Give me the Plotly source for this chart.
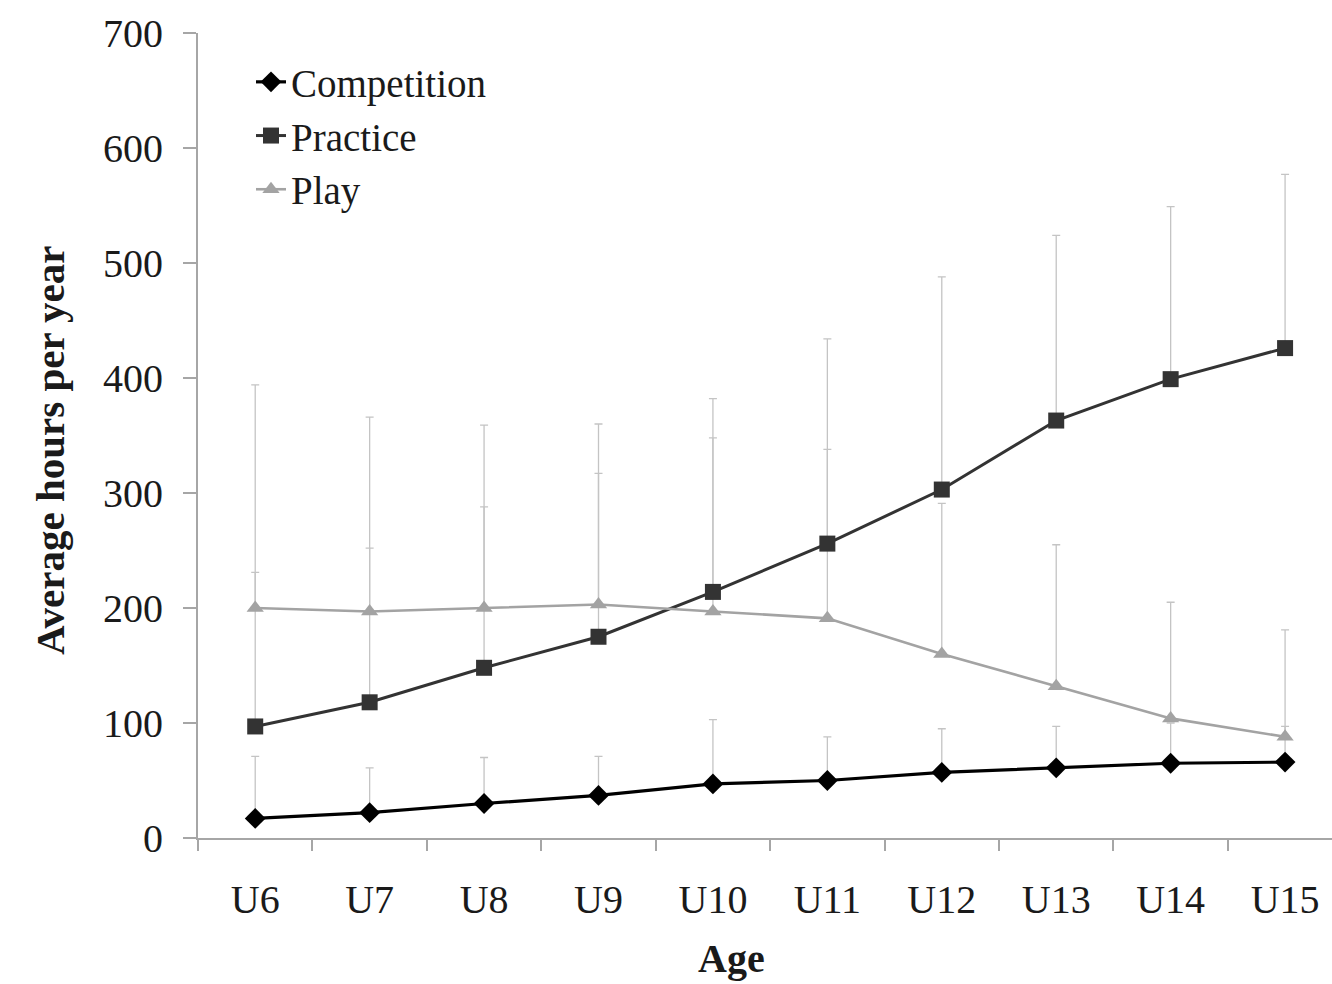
import plotly.graph_objects as go

# Age groups
ages = ["U6", "U7", "U8", "U9", "U10", "U11", "U12", "U13", "U14", "U15"]

# Average hours per year
competition = [17, 22, 30, 37, 47, 50, 57, 61, 65, 66]
practice = [97, 118, 148, 175, 214, 256, 303, 363, 399, 426]
play = [200, 197, 200, 203, 197, 191, 160, 132, 104, 88]

# Standard deviations (drawn as upper error bars only)
competition_sd = [54, 39, 40, 34, 56, 38, 38, 36, 35, 31]
practice_sd = [134, 134, 140, 142, 168, 178, 185, 161, 150, 151]
play_sd = [194, 169, 159, 157, 151, 147, 131, 123, 101, 93]

y_ticks = [0, 100, 200, 300, 400, 500, 600, 700]

FONT = "Liberation Serif"
ERR_COLOR = "#c4c4c4"
AXIS_COLOR = "#a6a6a6"
TEXT_COLOR = "#1a1a1a"

series = [
    ("Competition", competition, competition_sd, "#000000", "diamond", 16, 3.2),
    ("Practice", practice, practice_sd, "#333333", "square", 16, 3.0),
    ("Play", play, play_sd, "#a3a3a3", "triangle-up", 15, 2.6),
]

fig = go.Figure()

# error bars first so the lines and markers sit on top of them
for name, vals, sd, color, sym, size, lw in series:
    fig.add_trace(go.Scatter(
        x=ages, y=vals, mode="markers",
        marker=dict(size=1, opacity=0),
        error_y=dict(type="data", symmetric=False, array=sd,
                     arrayminus=[0] * len(sd), color=ERR_COLOR,
                     thickness=1.3, width=4),
        showlegend=False, hoverinfo="skip",
    ))

for i, (name, vals, sd, color, sym, size, lw) in enumerate(series):
    fig.add_trace(go.Scatter(
        x=ages, y=vals, name=name, mode="lines+markers",
        line=dict(color=color, width=lw),
        marker=dict(symbol=sym, size=size, color=color),
        legendgroup=f"g{i}",
    ))

L, R_EDGE, T, B0 = 198, 1332, 33, 838
W, H = 1332, 984

fig.update_layout(
    width=W, height=H,
    margin=dict(l=L, r=W - R_EDGE, t=T, b=H - B0),
    paper_bgcolor="white", plot_bgcolor="white",
    font=dict(family=FONT, size=40, color=TEXT_COLOR),
    showlegend=True,
    legend=dict(
        x=(251 - L) / (R_EDGE - L), y=1 - (50 - T) / (B0 - T),
        xanchor="left", yanchor="top",
        font=dict(family=FONT, size=39, color=TEXT_COLOR),
        bgcolor="rgba(0,0,0,0)", tracegroupgap=6,
        traceorder="normal",
    ),
    xaxis=dict(
        type="category", categoryorder="array", categoryarray=ages,
        range=[-0.5, 9.41], tickson="boundaries",
        showline=True, linecolor=AXIS_COLOR, linewidth=2,
        ticks="outside", ticklen=11, tickwidth=2, tickcolor=AXIS_COLOR,
        showgrid=False, zeroline=False,
        tickfont=dict(family=FONT, size=40, color=TEXT_COLOR),
        ticklabelstandoff=25,
    ),
    yaxis=dict(
        range=[0, 700], tickvals=y_ticks,
        showline=True, linecolor=AXIS_COLOR, linewidth=2,
        ticks="outside", ticklen=13, tickwidth=2, tickcolor=AXIS_COLOR,
        showgrid=False, zeroline=False,
        tickfont=dict(family=FONT, size=40, color=TEXT_COLOR),
        ticklabelstandoff=12,
    ),
    annotations=[
        dict(text="<b>Age</b>", xref="paper", yref="paper",
             x=(731 - L) / (R_EDGE - L), y=-(958 - B0) / (B0 - T),
             xanchor="center", yanchor="middle", showarrow=False,
             font=dict(family=FONT, size=40, color=TEXT_COLOR)),
        dict(text="<b>Average hours per year</b>", xref="paper", yref="paper",
             x=(50 - L) / (R_EDGE - L), y=(B0 - 450) / (B0 - T),
             xanchor="center", yanchor="middle", textangle=-90,
             showarrow=False,
             font=dict(family=FONT, size=41, color=TEXT_COLOR)),
    ],
)

fig.write_html("out.html")
